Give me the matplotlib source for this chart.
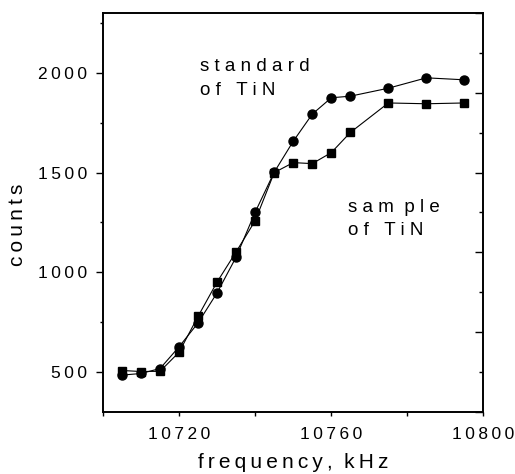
import matplotlib
matplotlib.use("Agg")
from matplotlib import pyplot as plt
from matplotlib.ticker import MultipleLocator, FixedLocator, NullFormatter

plt.rcParams['font.family'] = ['Liberation Sans', 'DejaVu Sans']

# frequency, kHz
freq = [10705, 10710, 10715, 10720, 10725, 10730, 10735, 10740,
        10745, 10750, 10755, 10760, 10765, 10775, 10785, 10795]
# standard of TiN (circles)
standard = [485, 493, 518, 627, 747, 898, 1077, 1302,
            1502, 1657, 1793, 1875, 1883, 1923, 1975, 1965]
# sample of TiN (squares)
sample = [508, 503, 504, 600, 780, 952, 1103, 1259,
          1500, 1550, 1545, 1600, 1701, 1849, 1845, 1849]

xticks = [10720, 10760, 10800]
yticks = [500, 1000, 1500, 2000]

TS = "\u2009"  # thin space, the original text is letter spaced


def spaced(s, sep=TS):
    return sep.join(s)


fig = plt.figure(figsize=(5.15, 4.74), dpi=100)
ax = fig.add_axes([0.2, 0.1308, 0.7388, 0.8418])

ax.plot(freq, standard, color="black", lw=0.8, marker="o", ms=6.5,
        mfc="black", mec="black", zorder=3)
ax.plot(freq, sample, color="black", lw=0.8, marker="s", ms=5.2,
        mfc="black", mec="black", zorder=3)

ax.set_xlim(10700, 10800)
ax.set_ylim(300, 2300)

ax.xaxis.set_major_locator(FixedLocator(xticks))
ax.xaxis.set_minor_locator(MultipleLocator(20))
ax.set_xticklabels([spaced(str(t)) for t in xticks])
ax.yaxis.set_major_locator(FixedLocator(yticks))
ax.yaxis.set_minor_locator(MultipleLocator(250))
ax.set_yticklabels([spaced(str(t)) for t in yticks])

ax.tick_params(axis="x", which="both", direction="out", length=3, width=1,
               labelsize=12.5, pad=8, top=False)
ax.tick_params(axis="y", which="major", direction="out", length=5, width=1,
               labelsize=12.5, pad=6.5, right=False)
ax.tick_params(axis="y", which="minor", direction="out", length=2.5, width=1,
               right=False)

# right axis: own tick marks, inward, no labels
ax2 = ax.twinx()
ax2.set_ylim(0, 5)
ax2.yaxis.set_major_locator(MultipleLocator(1))
ax2.yaxis.set_minor_locator(MultipleLocator(0.5))
ax2.yaxis.set_major_formatter(NullFormatter())
ax2.tick_params(axis="y", which="major", direction="in", length=6, width=1)
ax2.tick_params(axis="y", which="minor", direction="in", length=3, width=1)

for a in (ax, ax2):
    for sp in a.spines.values():
        sp.set_linewidth(1.2)

ax.set_xlabel(spaced("frequency,") + "  " + spaced("kHz"), fontsize=15, labelpad=7.5)
ax.set_ylabel(spaced("counts"), fontsize=15)
ax.yaxis.set_label_coords(-0.2, 0.47)

ax.text(10725.5, 2010, spaced("standard", " "), fontsize=13.5, va="baseline")
ax.text(10725.5, 1890, "o f   T i N", fontsize=13.5, va="baseline")
ax.text(10764.5, 1300, "s a m  p l e", fontsize=13.5, va="baseline")
ax.text(10764.5, 1185, "o f   T i N", fontsize=13.5, va="baseline")

fig.savefig("out.png", dpi=100)
